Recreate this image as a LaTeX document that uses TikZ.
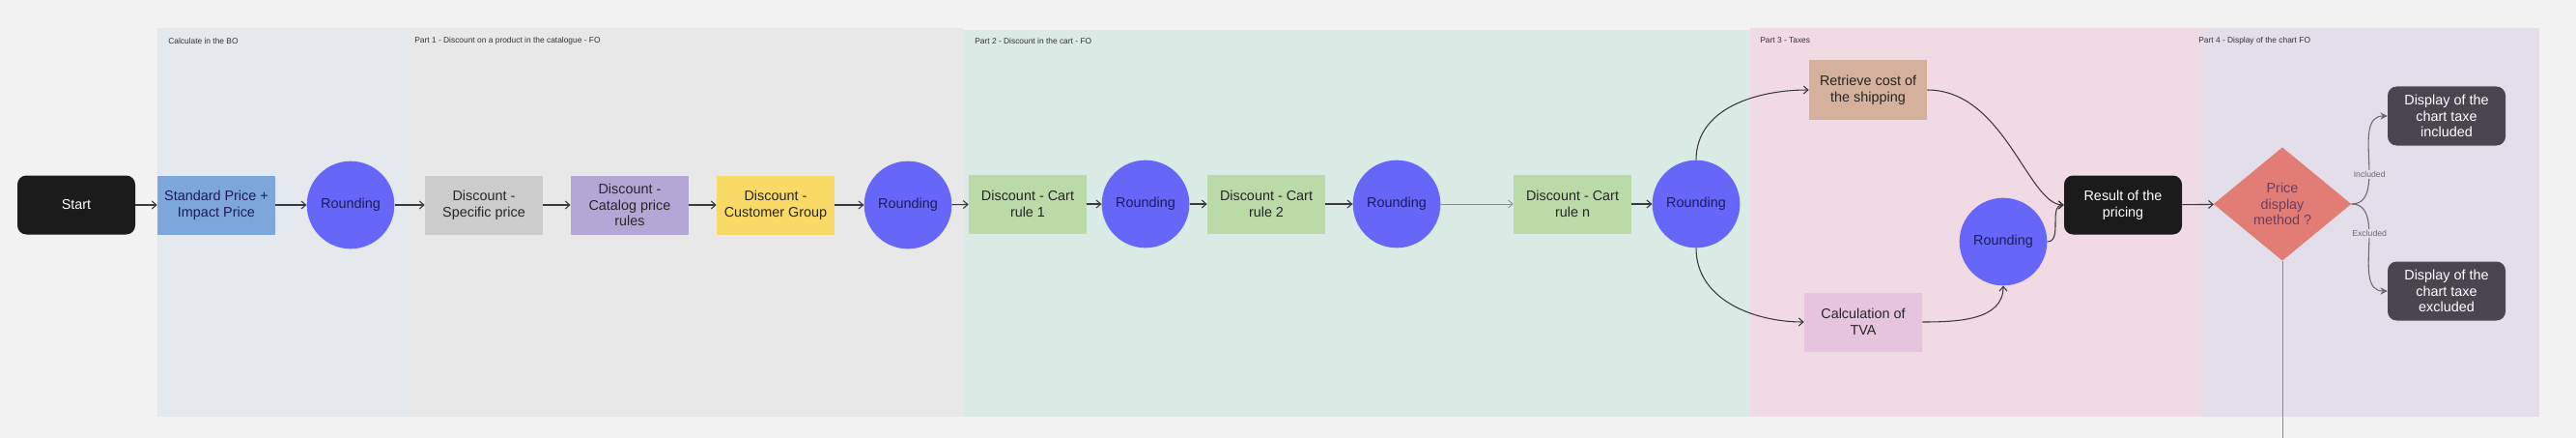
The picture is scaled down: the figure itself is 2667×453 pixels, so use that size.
\documentclass[tikz,border=0pt]{standalone}
\usepackage{fontspec}
\setmainfont{Liberation Sans}
\usetikzlibrary{shapes.geometric,arrows.meta}

\definecolor{canvas}{HTML}{F2F2F2}
\definecolor{lanebo}{HTML}{E4E9EE}
\definecolor{lanecat}{HTML}{E8E8E8}
\definecolor{lanecart}{HTML}{DAEAE5}
\definecolor{lanetax}{HTML}{F0DBE4}
\definecolor{lanedisp}{HTML}{E3DEE9}
\definecolor{lanetext}{HTML}{333333}
\definecolor{stdblue}{HTML}{7DA7DB}
\definecolor{specgray}{HTML}{CCCCCC}
\definecolor{catpurple}{HTML}{B4A7D6}
\definecolor{custyellow}{HTML}{F9DA66}
\definecolor{cartgreen}{HTML}{BCD9A8}
\definecolor{shiptan}{HTML}{D5B09C}
\definecolor{tvapink}{HTML}{E6C4DE}
\definecolor{rndblue}{HTML}{6666F8}
\definecolor{rndtext}{HTML}{1C1C5A}
\definecolor{termblack}{HTML}{1B1B1B}
\definecolor{outgray}{HTML}{4B4550}
\definecolor{diasalmon}{HTML}{E27D76}
\definecolor{diatext}{HTML}{6F3C5B}
\definecolor{linedark}{HTML}{3A3A3A}
\definecolor{linelight}{HTML}{8A8A8A}
\definecolor{branchgray}{HTML}{6F6A70}

\newcommand{\flowfont}{\fontsize{10.8}{12.6}\selectfont}

\tikzset{
  flowbox/.style={rectangle, minimum width=91.5pt, minimum height=45.75pt,
    inner sep=1pt, align=center, font=\flowfont, text=black!85},
  roundnode/.style={circle, fill=rndblue, minimum size=68pt, inner sep=0pt,
    text=rndtext, font=\flowfont},
  termnode/.style={flowbox, rounded corners=7pt, fill=termblack, text=white},
  outnode/.style={flowbox, rounded corners=7pt, fill=outgray, text=white},
  lanelabel/.style={anchor=west, inner sep=0pt, text=lanetext,
    font=\fontsize{6.3}{7}\selectfont},
  flow/.style={draw=linedark, line width=0.8pt,
    -{Straight Barb[length=3.5pt,width=6pt]}},
  branch/.style={draw=branchgray, line width=0.8pt,
    -{Stealth[length=5.5pt,width=5.5pt]}},
  branchlabel/.style={fill=lanedisp, inner sep=1pt, text=branchgray,
    font=\fontsize{6.5}{7}\selectfont}
}

\begin{document}
\begin{tikzpicture}[x=0.75pt,y=-0.75pt]
  \useasboundingbox (0,0) rectangle (2667,453);
  \fill[canvas] (0,0) rectangle (2667,453);
  % lanes
  \fill[lanebo] (163,29) rectangle (425,431);
  \fill[lanecat] (425,29) rectangle (998,431);
  \fill[lanecart] (998,31) rectangle (1812,431);
  \fill[lanetax] (1812,29) rectangle (2279,431);
  \fill[lanedisp] (2279,29) rectangle (2629,431);
  \node[lanelabel] (lbo) at (174,42) {Calculate in the BO};
  \node[lanelabel] (lcat) at (429,42) {Part 1 - Discount on a product in the catalogue - FO};
  \node[lanelabel] (lcart) at (1009,42) {Part 2 - Discount in the cart - FO};
  \node[lanelabel] (ltax) at (1822,42) {Part 3 - Taxes};
  \node[lanelabel] (ldisp) at (2276,42) {Part 4 - Display of the chart FO};

  % main line
  \node[termnode] (start) at (79,212) {Start};
  \node[flowbox, fill=stdblue, text=rndtext] (std) at (224,212) {Standard Price +\\Impact Price};
  \node[roundnode] (r1) at (363,212) {Rounding};
  \node[flowbox, fill=specgray] (spec) at (501,212) {Discount -\\Specific price};
  \node[flowbox, fill=catpurple] (cat) at (652,212) {Discount -\\Catalog price\\rules};
  \node[flowbox, fill=custyellow] (cust) at (803,212) {Discount -\\Customer Group};
  \node[roundnode] (r2) at (940,212) {Rounding};
  \node[flowbox, fill=cartgreen] (cr1) at (1064,211) {Discount - Cart\\rule 1};
  \node[roundnode] (r3) at (1186,211) {Rounding};
  \node[flowbox, fill=cartgreen] (cr2) at (1311,211) {Discount - Cart\\rule 2};
  \node[roundnode] (r4) at (1446,211) {Rounding};
  \node[flowbox, fill=cartgreen] (crn) at (1628,211) {Discount - Cart\\rule n};
  \node[roundnode] (r5) at (1756,211) {Rounding};

  % taxes
  \node[flowbox, fill=shiptan] (ship) at (1934,93) {Retrieve cost of\\the shipping};
  \node[flowbox, fill=tvapink] (tva) at (1929,333) {Calculation of\\TVA};
  \node[roundnode] (r6) at (2074,250) {Rounding};
  \node[termnode] (res) at (2198,212) {Result of the\\pricing};

  % display
  \node[diamond, fill=diasalmon, minimum width=107pt, minimum height=88pt,
    inner sep=0pt, align=center, font=\flowfont, text=diatext] (dia) at (2363,211)
    {Price\\display\\method ?};
  \node[outnode] (inc) at (2533,120) {Display of the\\chart taxe\\included};
  \node[outnode] (exc) at (2533,301) {Display of the\\chart taxe\\excluded};
  \coordinate (dropend) at (2363,453);

  \draw[flow] (start) -- (std);
  \draw[flow] (std) -- (r1);
  \draw[flow] (r1) -- (spec);
  \draw[flow] (spec) -- (cat);
  \draw[flow] (cat) -- (cust);
  \draw[flow] (cust) -- (r2);
  \draw[flow] (r2) -- (cr1);
  \draw[flow] (cr1) -- (r3);
  \draw[flow] (r3) -- (cr2);
  \draw[flow] (cr2) -- (r4);
  \draw[flow, draw=linelight, line width=0.6pt] (r4) -- (crn);
  \draw[flow] (crn) -- (r5);
  \draw[flow] (r5.north) to[out=90,in=180] (ship.west);
  \draw[flow] (r5.south) to[out=-90,in=180] (tva.west);
  \draw[flow] (ship.east) .. controls +(80,0) and +(-37,0) .. (res.west);
  \draw[flow] (tva.east) to[out=0,in=-90] (r6.south);
  \draw[flow] (r6.east) to[out=0,in=180] (res.west);
  \draw[flow] (res) -- (dia);
  \draw[branch] (dia.east) to[out=0,in=180]
    node[branchlabel, pos=0.39] {Included} (inc.west);
  \draw[branch] (dia.east) to[out=0,in=180]
    node[branchlabel, pos=0.39] {Excluded} (exc.west);
  \draw[linelight, line width=0.6pt] (dia.south) -- (dropend);
\end{tikzpicture}
\end{document}
